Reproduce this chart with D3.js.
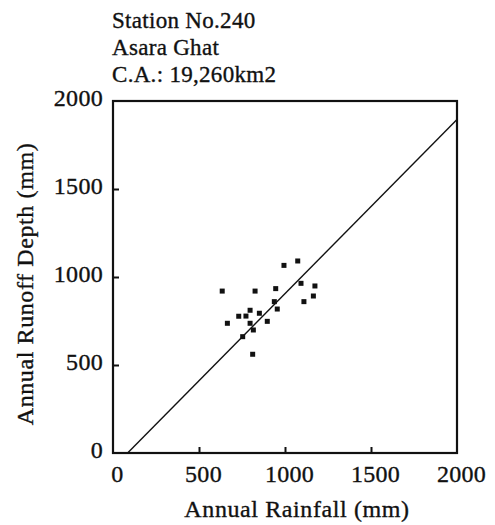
<!DOCTYPE html>
<html>
<head>
<meta charset="utf-8">
<script src="https://cdn.jsdelivr.net/npm/d3@7"></script>
<style>
  body { margin: 0; background: #fff; }
  text { font-family: "Liberation Serif", "Times New Roman", serif; fill: #111; stroke: #111; stroke-width: 0.35px; }
</style>
</head>
<body>
<svg id="chart" width="495" height="525"></svg>
<script>
// station info
const titleLines = ["Station No.240", "Asara Ghat", "C.A.: 19,260km2"];

// annual rainfall (mm) vs annual runoff depth (mm)
const rainfall = [635, 826, 994, 1074, 946, 1093, 1174, 1165, 1110, 938, 955,
                  797, 851, 731, 773, 897, 665, 797, 816, 754, 812];
const runoff   = [920, 920, 1066, 1091, 934, 964, 949, 892, 860, 860, 818,
                  811, 794, 777, 778, 748, 737, 737, 699, 661, 561];

// regression line end points
const lineRain   = [85, 2000];
const lineRunoff = [0, 1895];

const tickVals = [0, 500, 1000, 1500, 2000];

const svg = d3.select("#chart");
const plotL = 113, plotR = 457, plotT = 101, plotB = 453;

const x = d3.scaleLinear().domain([0, 2000]).range([plotL, plotR]);
const y = d3.scaleLinear().domain([0, 2000]).range([plotB, plotT]);

// title block
svg.append("g").selectAll("text")
  .data(titleLines)
  .join("text")
  .attr("x", 112)
  .attr("y", (d, i) => 28 + i * 27)
  .style("font-size", "23px")
  .style("letter-spacing", "0.3px")
  .text(d => d);

// axes with inward ticks
const fmt = d3.format("d");
const xAxis = d3.axisBottom(x).tickValues(tickVals).tickFormat(fmt).tickSize(-6).tickPadding(12);
const yAxis = d3.axisLeft(y).tickValues(tickVals).tickFormat(fmt).tickSize(-6).tickPadding(10);

const gx = svg.append("g").attr("transform", `translate(0,${plotB})`).call(xAxis);
const gy = svg.append("g").attr("transform", `translate(${plotL},0)`).call(yAxis);

[gx, gy].forEach(g => {
  g.select(".domain").remove();
  g.selectAll(".tick line").attr("stroke", "#111").attr("stroke-width", 2);
  g.selectAll(".tick text")
    .style("font-size", "24px")
    .style("letter-spacing", "0.3px")
    .attr("fill", "#111")
    .style("font-family", "'Liberation Serif', serif");
});
gx.selectAll(".tick text").attr("dx", 4);
gy.selectAll(".tick text").attr("dy", "0.2em");
// hide the end ticks on the frame
gx.selectAll(".tick line").filter(d => d === 0 || d === 2000).remove();
gy.selectAll(".tick line").filter(d => d === 0 || d === 2000).remove();

// frame
svg.append("rect")
  .attr("x", plotL).attr("y", plotT)
  .attr("width", plotR - plotL).attr("height", plotB - plotT)
  .attr("fill", "none").attr("stroke", "#111").attr("stroke-width", 2.2);

// regression line
const line = d3.line().x(d => x(d[0])).y(d => y(d[1]));
svg.append("path")
  .datum(d3.zip(lineRain, lineRunoff))
  .attr("d", line)
  .attr("fill", "none")
  .attr("stroke", "#111")
  .attr("stroke-width", 1.4);

// points
svg.append("g").selectAll("rect")
  .data(d3.zip(rainfall, runoff))
  .join("rect")
  .attr("x", d => x(d[0]) - 2.5)
  .attr("y", d => y(d[1]) - 2.5)
  .attr("width", 5)
  .attr("height", 5)
  .attr("fill", "#111");

// axis titles
svg.append("text")
  .attr("x", 297).attr("y", 517)
  .attr("text-anchor", "middle")
  .style("font-size", "24px")
  .style("letter-spacing", "0.6px")
  .text("Annual Rainfall (mm)");

svg.append("text")
  .attr("transform", "translate(33,284) rotate(-90)")
  .attr("text-anchor", "middle")
  .style("font-size", "24px")
  .style("letter-spacing", "0.6px")
  .text("Annual Runoff Depth (mm)");
</script>
</body>
</html>
